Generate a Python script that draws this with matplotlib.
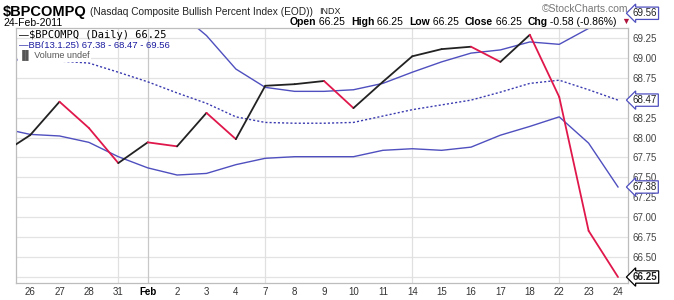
import numpy as np
import matplotlib.pyplot as plt
from matplotlib.transforms import blended_transform_factory

# trading days (first one is Jan 25, only its segment shows at the left edge)
dates = ['25', '26', '27', '28', '31', 'Feb', '2', '3', '4', '7', '8', '9', '10', '11',
         '14', '15', '16', '17', '18', '22', '23', '24']
close = [67.79, 68.03, 68.45, 68.12, 67.68, 67.94, 67.89, 68.31, 67.98, 68.65, 68.67,
         68.71, 68.37, 68.70, 69.02, 69.11, 69.14, 68.95, 69.29, 68.51, 66.83, 66.25]
bb_mid = [68.98, 68.97, 68.96, 68.935, 68.82, 68.70, 68.56, 68.43, 68.26, 68.19, 68.18,
          68.18, 68.19, 68.27, 68.35, 68.41, 68.47, 68.57, 68.68, 68.72, 68.60, 68.47]
bb_low = [68.12, 68.04, 68.02, 67.94, 67.76, 67.62, 67.53, 67.55, 67.66, 67.74, 67.76,
          67.76, 67.76, 67.84, 67.86, 67.84, 67.88, 68.03, 68.14, 68.26, 67.93, 67.38]
bb_up = [69.82, 69.90, 69.90, 69.93, 69.88, 69.78, 69.59, 69.28, 68.86, 68.63, 68.58,
         68.58, 68.60, 68.68, 68.82, 68.95, 69.06, 69.10, 69.20, 69.17, 69.37, 69.56]
y_ticks = [66.25, 66.50, 66.75, 67.00, 67.25, 67.50, 67.75, 68.00, 68.25, 68.50, 68.75,
           69.00, 69.25]
week_lines = ['31', '7', '14', '22']

plt.rcParams['font.family'] = ['Liberation Sans', 'DejaVu Sans']

W, H = 674, 300
fig = plt.figure(figsize=(W / 100, H / 100), dpi=100)
ax = fig.add_axes([16 / W, 1 - 283 / H, (628 - 16) / W, (283 - 28) / H])

x = np.arange(len(dates)) - 1
blue = '#4f4fbf'

for v in y_ticks:
    ax.axhline(v, color='#e3e3e3', lw=0.9, zorder=0)
for d in week_lines:
    ax.axvline(x[dates.index(d)], color='#e0e0e0', lw=0.9, zorder=0)
ax.axvline(x[dates.index('Feb')], color='#c8c8c8', lw=0.9, zorder=0)

ax.plot(x, bb_up, color=blue, lw=1.0, zorder=2)
ax.plot(x, bb_low, color=blue, lw=1.0, zorder=2)
ax.plot(x, bb_mid, color='#3a3ab0', lw=1.0, ls=(0, (1.5, 1.5)), zorder=2)

# close line: black on up days, red on down days
for k in range(len(close) - 1):
    c = '#222222' if close[k + 1] >= close[k] else '#e0174b'
    ax.plot(x[k:k + 2], close[k:k + 2], color=c, lw=1.3, zorder=3,
            solid_capstyle='round')

ax.set_xlim(-0.48, 20.34)
ax.set_ylim(66.175, 69.375)
ax.set_xticks(x[1:])
ax.set_xticklabels(dates[1:], fontsize=7, color='#333333')
for lab in ax.get_xticklabels():
    if lab.get_text() == 'Feb':
        lab.set_fontweight('bold')
        lab.set_color('black')
ax.set_yticks(y_ticks)
ax.set_yticklabels([''] + ['%.2f' % v for v in y_ticks[1:]], fontsize=7, color='#444444')
ax.yaxis.tick_right()
ax.tick_params(length=0, pad=3)
for s in ax.spines.values():
    s.set_color('#bdbdbd')
    s.set_linewidth(0.9)

# value boxes on the right
tr = blended_transform_factory(ax.transAxes, ax.transData)
for val, ec, bold in [(bb_up[-1], blue, False), (bb_mid[-1], blue, False),
                      (bb_low[-1], blue, False), (close[-1], 'black', True)]:
    ax.text(1.008, val, '%.2f' % val, transform=tr, fontsize=7, va='center', ha='left',
            fontweight='bold' if bold else 'normal', color='#222222', clip_on=False,
            bbox=dict(boxstyle='larrow,pad=0.12', fc='white', ec=ec, lw=0.9))

# legend block in the top-left corner
fig.text(19 / W, 1 - 35 / H, '\u2014', fontsize=7, color='black', va='center')
fig.text(29 / W, 1 - 35 / H, '$BPCOMPQ (Daily) 66.25', fontsize=7.5, color='black',
         va='center', family='DejaVu Sans Mono')
fig.text(19 / W, 1 - 45.5 / H, '\u2014BB(13,1.25) 67.38 - 68.47 - 69.56', fontsize=6.8,
         color='#1a1aa0', va='center')
fig.text(19 / W, 1 - 55 / H, '\u2590\u258c Volume undef', fontsize=6.5, color='#555555',
         va='center', bbox=dict(boxstyle='square,pad=0.15', fc='white', ec='none'))

# header
fig.text(3 / W, 1 - 12 / H, '$BPCOMPQ', fontsize=10.5, fontweight='bold', va='center')
fig.text(90 / W, 1 - 12 / H, '(Nasdaq Composite Bullish Percent Index (EOD))',
         fontsize=7.3, va='center', color='#222222')
fig.text(319 / W, 1 - 12 / H, 'INDX', fontsize=6.5, va='center', color='#222222')
fig.text(3 / W, 1 - 23 / H, '24-Feb-2011', fontsize=7.5, va='center')
fig.text(628 / W, 1 - 9 / H, '\u00a9StockCharts.com', fontsize=7.5, va='center', ha='right',
         color='#777777')

# quote line, pieces chained one after another
parts = [('Open', True), (' 66.25  ', False), ('High', True), (' 66.25  ', False),
         ('Low', True), (' 66.25  ', False), ('Close', True), (' 66.25  ', False),
         ('Chg', True), (' -0.58 (-0.86%)', False)]
prev = fig.text(290 / W, 1 - 27 / H, parts[0][0], fontsize=7.5, fontweight='bold',
                va='bottom')
for txt, bold in parts[1:]:
    prev = ax.annotate(txt, xy=(1, 0), xycoords=prev, va='bottom', ha='left',
                       fontsize=7.5, fontweight='bold' if bold else 'normal',
                       annotation_clip=False)
ax.annotate('\u25bc', xy=(1, 0), xycoords=prev, xytext=(3, 0.5), textcoords='offset points',
            va='bottom', fontsize=6.5, color='#b0143c', annotation_clip=False)

fig.savefig('out.png', dpi=100)
